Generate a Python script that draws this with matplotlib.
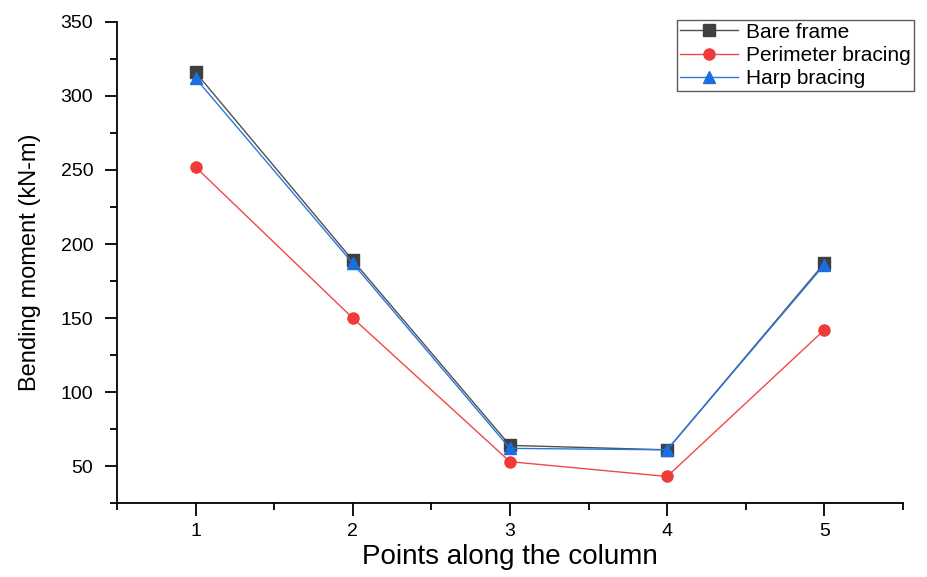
import matplotlib
matplotlib.use("Agg")
import matplotlib.pyplot as plt
from matplotlib.ticker import MultipleLocator

points = [1, 2, 3, 4, 5]
bare_frame = [316, 189, 64, 61, 187]
perimeter_bracing = [252, 150, 53, 43, 142]
harp_bracing = [312, 187, 62, 61, 186]

plt.rcParams['font.family'] = ['Liberation Sans', 'DejaVu Sans']

fig = plt.figure(figsize=(9.28, 5.77), dpi=100)
ax = fig.add_axes([0.126, 0.128, 0.847, 0.834])

ax.plot(points, bare_frame, color='#505050', marker='s', markersize=8,
        markerfacecolor='#404040', markeredgecolor='#404040', linewidth=1.0, label='Bare frame')
ax.plot(points, perimeter_bracing, color='#f04848', marker='o', markersize=8,
        markerfacecolor='#ee3a3a', markeredgecolor='#ee3a3a', linewidth=1.0, label='Perimeter bracing')
ax.plot(points, harp_bracing, color='#2a78e0', marker='^', markersize=9,
        markerfacecolor='#1a6ee0', markeredgecolor='#1a6ee0', linewidth=1.0, label='Harp bracing')

ax.set_xlim(0.5, 5.5)
ax.set_ylim(25, 350)
ax.xaxis.set_major_locator(MultipleLocator(1))
ax.xaxis.set_minor_locator(MultipleLocator(0.5))
ax.yaxis.set_minor_locator(MultipleLocator(25))
ax.set_yticks([50, 100, 150, 200, 250, 300, 350])

for s in ['top', 'right']:
    ax.spines[s].set_visible(False)
for s in ['left', 'bottom']:
    ax.spines[s].set_linewidth(1.3)

ax.tick_params(axis='both', which='major', direction='out', length=9, width=1.3, labelsize=14)
ax.tick_params(axis='y', which='major', pad=8)
ax.tick_params(axis='x', which='major', pad=5)
ax.tick_params(axis='both', which='minor', direction='out', length=5, width=1.3)

ax.set_xlabel('Points along the column', fontsize=20, labelpad=3)
ax.set_ylabel('Bending moment (kN-m)', fontsize=17, labelpad=14)

leg = ax.legend(loc='upper left', bbox_to_anchor=(0.712, 1.005), frameon=True, fancybox=False,
                edgecolor='#333333', fontsize=15, handlelength=2.8, borderpad=0.15,
                labelspacing=0.2, handletextpad=0.4, borderaxespad=0)
leg.get_frame().set_linewidth(1.0)

fig.savefig('out.png', dpi=100)
